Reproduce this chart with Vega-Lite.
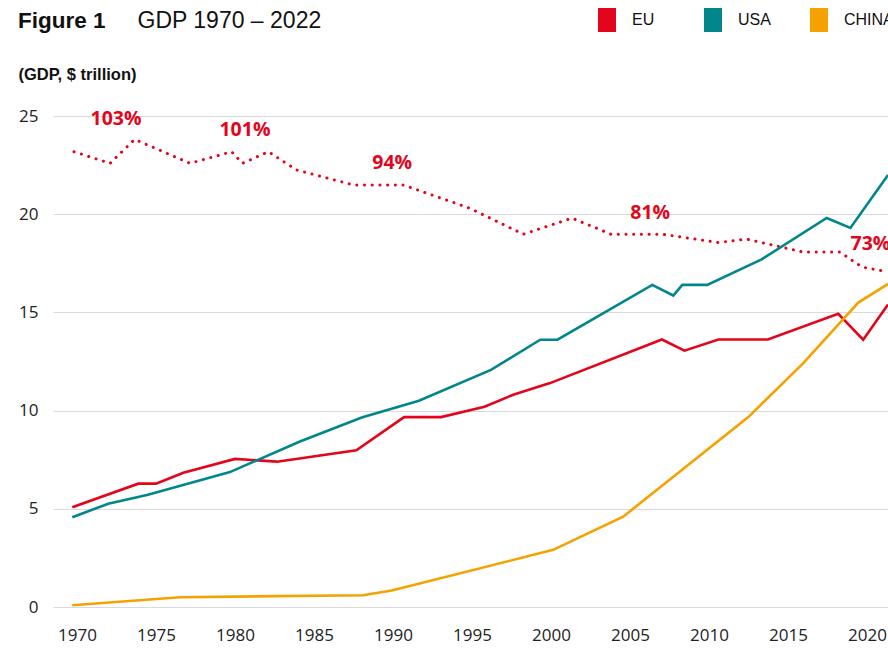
{
  "$schema": "https://vega.github.io/schema/vega-lite/v6.json",
  "width": 835,
  "height": 491,
  "autosize": {"type": "none"},
  "padding": {"left": 53, "top": 116, "right": 0, "bottom": 43},
  "background": "white",
  "title": {
    "text": "Figure 1",
    "anchor": "start",
    "frame": "group",
    "dx": -35,
    "offset": -42,
    "baseline": "alphabetic",
    "font": "Liberation Sans",
    "fontSize": 22.5,
    "fontWeight": "bold",
    "color": "#111111"
  },
  "config": {
    "view": {"stroke": null},
    "font": "Open Sans"
  },
  "datasets": {
    "gdp": [
      {"year": 1969.7, "region": "EU", "value": 5.08},
      {"year": 1973.88, "region": "EU", "value": 6.28},
      {"year": 1975.0, "region": "EU", "value": 6.28},
      {"year": 1976.73, "region": "EU", "value": 6.83},
      {"year": 1980.0, "region": "EU", "value": 7.54},
      {"year": 1982.66, "region": "EU", "value": 7.40},
      {"year": 1987.68, "region": "EU", "value": 7.98},
      {"year": 1990.7, "region": "EU", "value": 9.67},
      {"year": 1993.04, "region": "EU", "value": 9.67},
      {"year": 1995.79, "region": "EU", "value": 10.2},
      {"year": 1997.61, "region": "EU", "value": 10.81},
      {"year": 1999.94, "region": "EU", "value": 11.4},
      {"year": 2007.02, "region": "EU", "value": 13.62},
      {"year": 2008.45, "region": "EU", "value": 13.05},
      {"year": 2010.59, "region": "EU", "value": 13.62},
      {"year": 2013.73, "region": "EU", "value": 13.62},
      {"year": 2018.18, "region": "EU", "value": 14.93},
      {"year": 2019.76, "region": "EU", "value": 13.61},
      {"year": 2021.33, "region": "EU", "value": 15.4},
      {"year": 1969.7, "region": "USA", "value": 4.57},
      {"year": 1971.98, "region": "USA", "value": 5.26},
      {"year": 1974.49, "region": "USA", "value": 5.72},
      {"year": 1979.68, "region": "USA", "value": 6.87},
      {"year": 1984.11, "region": "USA", "value": 8.43},
      {"year": 1988.02, "region": "USA", "value": 9.65},
      {"year": 1991.64, "region": "USA", "value": 10.5},
      {"year": 1996.2, "region": "USA", "value": 12.07},
      {"year": 1999.32, "region": "USA", "value": 13.61},
      {"year": 2000.41, "region": "USA", "value": 13.61},
      {"year": 2006.41, "region": "USA", "value": 16.4},
      {"year": 2007.74, "region": "USA", "value": 15.86},
      {"year": 2008.31, "region": "USA", "value": 16.4},
      {"year": 2009.89, "region": "USA", "value": 16.4},
      {"year": 2013.33, "region": "USA", "value": 17.7},
      {"year": 2017.45, "region": "USA", "value": 19.81},
      {"year": 2018.95, "region": "USA", "value": 19.3},
      {"year": 2021.33, "region": "USA", "value": 22.0},
      {"year": 1969.7, "region": "CHINA", "value": 0.09},
      {"year": 1976.52, "region": "CHINA", "value": 0.5},
      {"year": 1988.1, "region": "CHINA", "value": 0.6},
      {"year": 1989.92, "region": "CHINA", "value": 0.84},
      {"year": 2000.14, "region": "CHINA", "value": 2.91},
      {"year": 2004.57, "region": "CHINA", "value": 4.6},
      {"year": 2012.49, "region": "CHINA", "value": 9.67},
      {"year": 2015.97, "region": "CHINA", "value": 12.42},
      {"year": 2019.45, "region": "CHINA", "value": 15.5},
      {"year": 2021.33, "region": "CHINA", "value": 16.45}
    ],
    "ratio": [
      {"year": 1969.81, "value": 23.18},
      {"year": 1972.09, "value": 22.59},
      {"year": 1973.65, "value": 23.81},
      {"year": 1977.15, "value": 22.59},
      {"year": 1979.79, "value": 23.18},
      {"year": 1980.47, "value": 22.59},
      {"year": 1982.11, "value": 23.18},
      {"year": 1983.9, "value": 22.25},
      {"year": 1987.49, "value": 21.49},
      {"year": 1990.65, "value": 21.49},
      {"year": 1994.87, "value": 20.3},
      {"year": 1998.25, "value": 18.98},
      {"year": 2001.33, "value": 19.8},
      {"year": 2003.8, "value": 18.98},
      {"year": 2007.06, "value": 18.98},
      {"year": 2010.59, "value": 18.56},
      {"year": 2012.38, "value": 18.73},
      {"year": 2015.97, "value": 18.07},
      {"year": 2018.29, "value": 18.07},
      {"year": 2019.68, "value": 17.31},
      {"year": 2021.33, "value": 17.06}
    ],
    "labels": [
      {"year": 1972.47, "value": 24.85, "label": "103%"},
      {"year": 1980.63, "value": 24.29, "label": "101%"},
      {"year": 1989.95, "value": 22.63, "label": "94%"},
      {"year": 2006.28, "value": 20.08, "label": "81%"},
      {"year": 2020.22, "value": 18.5, "label": "73%"}
    ]
  },
  "encoding": {
    "x": {
      "field": "year",
      "type": "quantitative",
      "scale": {"domain": [1968.48, 2021.33], "nice": false, "zero": false},
      "axis": {
        "values": [1970, 1975, 1980, 1985, 1990, 1995, 2000, 2005, 2010, 2015, 2020],
        "format": "d",
        "grid": false,
        "domain": false,
        "ticks": false,
        "labelPadding": 20,
        "labelFont": "Open Sans",
        "labelFontSize": 17,
        "labelColor": "#222222",
        "title": "GDP 1970 – 2022",
        "titleX": 84,
        "titleY": -580,
        "titleAlign": "left",
        "titleAnchor": "start",
        "titleBaseline": "alphabetic",
        "titleFont": "Liberation Sans",
        "titleFontSize": 23,
        "titleFontWeight": "normal",
        "titleColor": "#111111"
      }
    },
    "y": {
      "field": "value",
      "type": "quantitative",
      "scale": {"domain": [0, 25], "nice": false},
      "axis": {
        "values": [0, 5, 10, 15, 20, 25],
        "grid": true,
        "gridColor": "#d9d9d9",
        "gridWidth": 1.2,
        "domain": false,
        "ticks": false,
        "labelPadding": 15,
        "labelFont": "Open Sans",
        "labelFontSize": 17,
        "labelColor": "#222222",
        "title": "(GDP, $ trillion)",
        "titleAngle": 0,
        "titleAlign": "left",
        "titleAnchor": "start",
        "titleBaseline": "alphabetic",
        "titleX": -35,
        "titleY": -37,
        "titleFont": "Liberation Sans",
        "titleFontSize": 16.5,
        "titleFontWeight": "bold",
        "titleColor": "#111111"
      }
    }
  },
  "layer": [
    {
      "data": {"name": "ratio"},
      "mark": {"type": "line", "color": "#e3051b", "strokeWidth": 3, "strokeDash": [0.1, 7.6], "strokeCap": "round"}
    },
    {
      "data": {"name": "gdp"},
      "mark": {"type": "line", "strokeWidth": 2.6},
      "encoding": {
        "color": {
          "field": "region",
          "type": "nominal",
          "sort": ["EU", "USA", "CHINA"],
          "scale": {"domain": ["EU", "USA", "CHINA"], "range": ["#e3051b", "#00868b", "#f5a100"]},
          "legend": {
            "orient": "none",
            "legendX": 542,
            "legendY": -108,
            "direction": "horizontal",
            "columns": 3,
            "gridAlign": "all",
            "title": null,
            "symbolType": "M-0.75,-1H0.75V1H-0.75Z",
            "symbolSize": 576,
            "symbolStrokeWidth": 0,
            "labelOffset": 13,
            "columnPadding": 19,
            "labelFont": "Liberation Sans",
            "labelFontSize": 16,
            "labelColor": "#111111",
            "encode": {
              "symbols": {
                "update": {
                  "fill": {"scale": "color", "field": "value"},
                  "stroke": {"scale": "color", "field": "value"},
                  "strokeWidth": {"value": 0},
                  "opacity": {"value": 1}
                }
              }
            }
          }
        }
      }
    },
    {
      "data": {"name": "labels"},
      "mark": {"type": "text", "color": "#e3051b", "font": "Open Sans", "fontWeight": "bold", "fontSize": 19.5, "baseline": "middle", "align": "center"},
      "encoding": {"text": {"field": "label", "type": "nominal"}}
    }
  ]
}
